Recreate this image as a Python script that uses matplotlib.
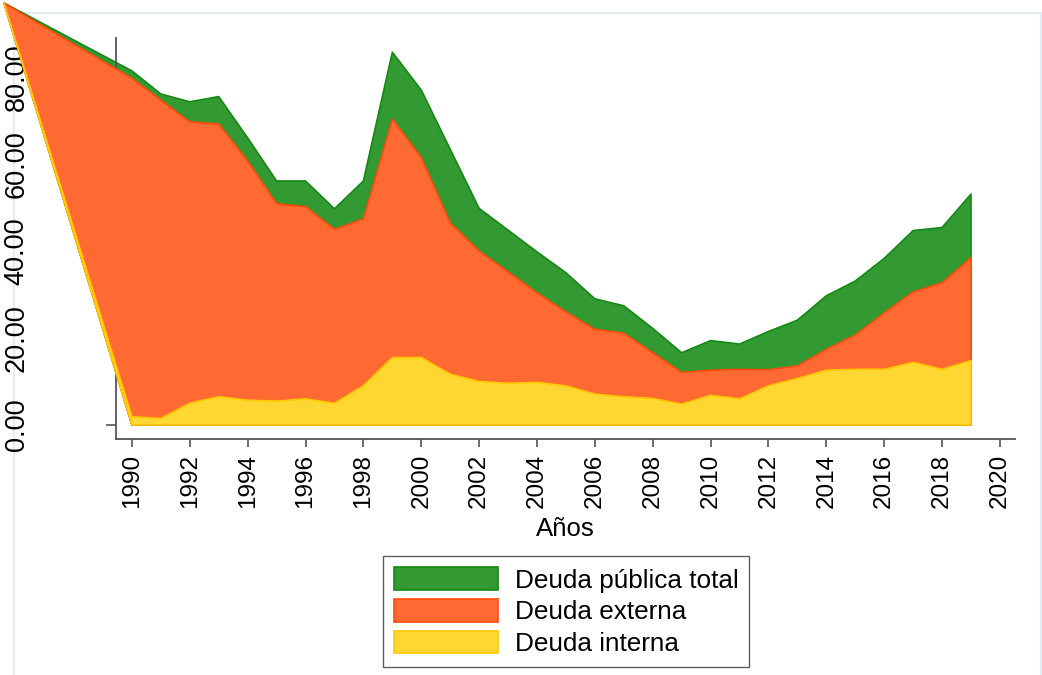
import matplotlib
matplotlib.use("Agg")
import matplotlib.pyplot as plt
from matplotlib.patches import Polygon, Rectangle, Patch

# ---- data ----
years = list(range(1990, 2020))
deuda_total = [81.4, 76.1, 74.3, 75.5, 66.0, 56.1, 56.1, 49.7, 56.1, 85.7,
               77.0, 63.4, 49.8, 44.8, 39.8, 35.0, 29.0, 27.4, 22.2, 16.6,
               19.4, 18.6, 21.5, 24.1, 29.7, 33.1, 38.3, 44.7, 45.4, 53.1]
deuda_externa = [79.7, 74.7, 69.7, 69.2, 60.7, 50.9, 50.2, 45.0, 47.4, 70.3,
                 61.5, 46.5, 40.0, 35.2, 30.4, 26.0, 22.0, 21.1, 16.6, 12.1,
                 12.6, 12.8, 12.7, 13.6, 17.4, 20.7, 25.8, 30.6, 32.7, 38.5]
deuda_interna = [1.9, 1.5, 5.0, 6.5, 5.7, 5.5, 6.0, 5.0, 9.0, 15.5,
                 15.5, 11.7, 10.0, 9.6, 9.8, 9.0, 7.1, 6.5, 6.1, 4.8,
                 6.8, 6.0, 9.0, 10.7, 12.6, 12.8, 12.8, 14.4, 12.8, 14.8]
labels = ["Deuda pública total", "Deuda externa", "Deuda interna"]
xticks = list(range(1990, 2021, 2))
yticks = [0, 20, 40, 60, 80]

plt.rcParams["font.family"] = ["Liberation Sans", "DejaVu Sans"]

W, H = 1042, 675
fig = plt.figure(figsize=(W / 100, H / 100), dpi=100)
fig.patch.set_facecolor("white")

# faint outer graph-region border
fig.add_artist(Rectangle((14 / W, -0.05), (1041 - 14) / W, (H - 13) / H + 0.05,
                         transform=fig.transFigure, fill=False,
                         edgecolor="#e3ecf0", lw=1.5, zorder=0))

ax = fig.add_axes([116 / W, 1 - 439 / H, 899 / W, 401 / H])
ax.set_xlim(1989.45, 2020.52)
ax.set_ylim(-3.22, 88.97)

for s in ["top", "right"]:
    ax.spines[s].set_visible(False)
for s in ["left", "bottom"]:
    ax.spines[s].set_color("#555555")
    ax.spines[s].set_linewidth(1.3)

ax.set_xticks(xticks)
ax.set_xticklabels([str(t) for t in xticks], rotation=90, fontsize=17.5)
ax.set_yticks(yticks)
ax.set_yticklabels(["%.2f" % t for t in yticks], rotation=90, va="center", fontsize=19.5)
ax.tick_params(axis="x", direction="out", length=5.8, width=1.2, color="#555555", pad=5)
ax.tick_params(axis="y", direction="out", length=7.2, width=1.2, color="#555555", pad=55)

ax.set_xlabel("Años", fontsize=18.5)
ax.xaxis.set_label_coords(0.5, (439 - 529) / 401)
ax.xaxis.label.set_va("center")

# rendering artifact in the reference: every area path starts at the figure's top-left corner
fig.canvas.draw()
corner = ax.transData.inverted().transform(fig.transFigure.transform((4 / W, 1 - 3 / H)))
corner = (corner[0], corner[1])

series = [
    (deuda_total, "#339933", "#138a13"),
    (deuda_externa, "#ff6a33", "#ff4a0a"),
    (deuda_interna, "#ffd733", "#ffc800"),
]
for z, (vals, fc, ec) in enumerate(series):
    verts = [corner] + list(zip(years, vals)) + [(years[-1], 0), (years[0], 0)]
    ax.add_patch(Polygon(verts, closed=True, facecolor=fc, edgecolor=ec,
                         lw=1.2, clip_on=False, zorder=2 + z, joinstyle="round"))

handles = [Patch(facecolor=fc, edgecolor=ec, lw=1.2) for _, fc, ec in series]
leg = fig.legend(handles, labels, loc="lower left",
                 bbox_to_anchor=(383 / W, 8 / H), bbox_transform=fig.transFigure,
                 fontsize=18.8, frameon=True, fancybox=False, edgecolor="#333333",
                 handlelength=4.0, handleheight=0.95, handletextpad=0.62,
                 labelspacing=0.25, borderpad=0.42, borderaxespad=0)
leg.get_frame().set_linewidth(1.0)

fig.savefig("out.png", dpi=100)
